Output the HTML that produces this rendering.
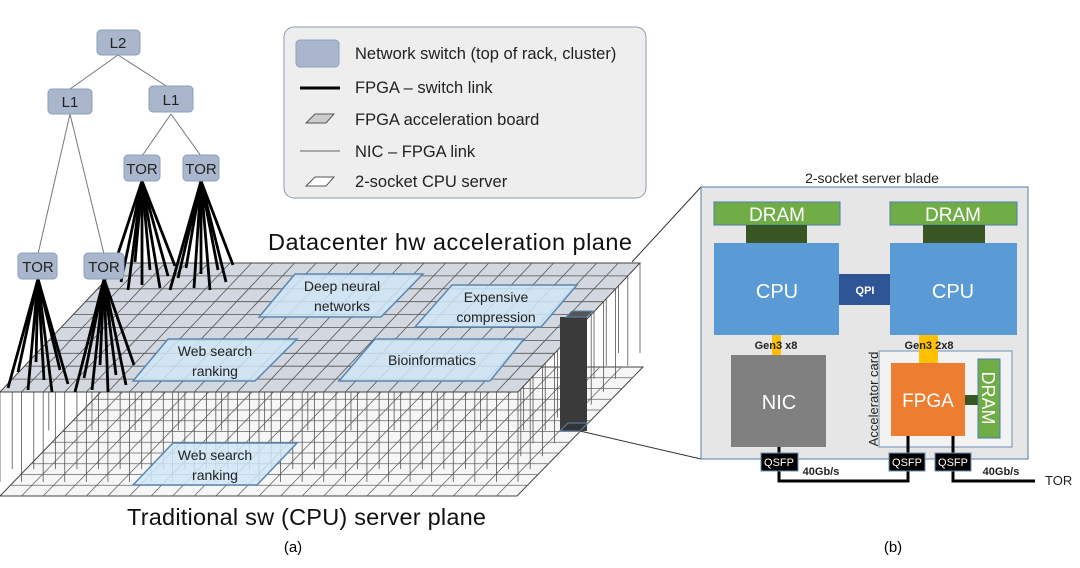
<!DOCTYPE html>
<html><head><meta charset="utf-8"><style>
html,body{margin:0;padding:0;background:#fff;}
svg{display:block;font-family:"Liberation Sans",sans-serif;}
</style></head><body>
<svg id="s" width="1080" height="568" viewBox="0 0 1080 568" xmlns="http://www.w3.org/2000/svg">
<g id="planes"></g>
<g fill="#cfe6f7" stroke="#5b87b3" stroke-width="1.5" fill-opacity="0.85">
<polygon points="295,274 423,274 381,317 259,317"/>
<polygon points="452,285 577,285 541,327 415,327"/>
<polygon points="168,339 297,339 255,381 133,381"/>
<polygon points="375,339 524,339 490,381 339,381"/>
<polygon points="173,443 297,443 257,485 133,485"/>
</g>
<g font-size="14" fill="#222" text-anchor="middle">
<text x="342" y="291">Deep neural</text><text x="342" y="311">networks</text>
<text x="496" y="302">Expensive</text><text x="496" y="322">compression</text>
<text x="215" y="356">Web search</text><text x="215" y="376">ranking</text>
<text x="432" y="365">Bioinformatics</text>
<text x="215" y="460">Web search</text><text x="215" y="480">ranking</text>
</g>
<polygon points="560,317 587,317 587,431 560,431" fill="#3a3a3a"/>
<polygon points="566,317 587,317 593,311 572,311" fill="#555" stroke="#5b87b3"/>
<polygon points="560,431 580,431 588,423 568,423" fill="#333" stroke="#5b87b3"/>
<line x1="580" y1="431" x2="701" y2="459" stroke="#333" stroke-width="1"/>
<line x1="632" y1="262" x2="701" y2="187" stroke="#333" stroke-width="1"/>
<g stroke="#777" stroke-width="1">
<line x1="118" y1="55" x2="70" y2="89"/><line x1="118" y1="55" x2="171" y2="89"/>
<line x1="70" y1="114" x2="38" y2="254"/><line x1="70" y1="114" x2="104" y2="254"/>
<line x1="171" y1="114" x2="142" y2="156"/><line x1="171" y1="114" x2="201" y2="156"/>
</g>
<g id="fans" stroke="#000" stroke-width="2.8"></g>
<g fill="#a9b6cb" stroke="#8aa0c0" stroke-width="1">
<rect x="97" y="30" width="43" height="25" rx="4"/>
<rect x="48" y="89" width="44" height="25" rx="4"/>
<rect x="149" y="86" width="44" height="26" rx="4"/>
<rect x="124" y="155" width="36" height="26" rx="4"/>
<rect x="183" y="155" width="36" height="26" rx="4"/>
<rect x="18" y="253" width="39" height="26" rx="4"/>
<rect x="84" y="253" width="40" height="26" rx="4"/>
</g>
<g font-size="15" fill="#222" text-anchor="middle">
<text x="118" y="48">L2</text><text x="70" y="107">L1</text><text x="171" y="105">L1</text>
<text x="142" y="174">TOR</text><text x="201" y="174">TOR</text>
<text x="38" y="272">TOR</text><text x="104" y="272">TOR</text>
</g>
<rect x="284" y="27" width="362" height="171" rx="10" fill="#eeeeee" stroke="#8a9bb0"/>
<rect x="296" y="40" width="43" height="27" rx="4" fill="#a9b6cb" stroke="#8aa0c0"/>
<line x1="300" y1="88" x2="340" y2="88" stroke="#000" stroke-width="3"/>
<polygon points="315,114 334,114 326,123 306,123" fill="#ccc" stroke="#555"/>
<line x1="300" y1="151" x2="340" y2="151" stroke="#333" stroke-width="0.8"/>
<polygon points="315,177 334,177 326,186 306,186" fill="#fff" stroke="#555"/>
<g font-size="16.5" fill="#222">
<text x="355" y="59">Network switch (top of rack, cluster)</text>
<text x="355" y="93">FPGA – switch link</text>
<text x="355" y="125">FPGA acceleration board</text>
<text x="355" y="157">NIC – FPGA link</text>
<text x="355" y="187">2-socket CPU server</text>
</g>
<text x="268" y="250" font-size="23.5" fill="#111" textLength="364">Datacenter hw acceleration plane</text>
<text x="127" y="525" font-size="23.5" fill="#111" textLength="359">Traditional sw (CPU) server plane</text>
<text x="293" y="552" font-size="15" text-anchor="middle">(a)</text>
<text x="893" y="552" font-size="15" text-anchor="middle">(b)</text>
<text x="872" y="183" font-size="14" text-anchor="middle" fill="#222">2-socket server blade</text>
<rect x="701" y="187" width="327" height="272" fill="#e6e6e6" stroke="#6d8fb8" stroke-width="1.2"/>
<rect x="714" y="202" width="126" height="23" fill="#70ad47" stroke="#4b7fb0"/>
<rect x="890" y="202" width="127" height="23" fill="#70ad47" stroke="#4b7fb0"/>
<rect x="746" y="225" width="61" height="18" fill="#375623"/>
<rect x="923" y="225" width="62" height="18" fill="#375623"/>
<rect x="714" y="243" width="125" height="92" fill="#5b9bd5"/>
<rect x="890" y="243" width="127" height="92" fill="#5b9bd5"/>
<rect x="839" y="274" width="51" height="31" fill="#2f5597"/>
<rect x="772" y="335" width="9" height="20" fill="#ffc000"/>
<rect x="731" y="355" width="95" height="92" fill="#808080"/>
<rect x="879" y="351" width="133" height="96" fill="#f2f2f2" stroke="#6d8fb8"/>
<rect x="919" y="335" width="19" height="28" fill="#ffc000"/>
<rect x="891" y="363" width="74" height="73" fill="#ed7d31"/>
<rect x="965" y="395" width="13" height="10" fill="#375623"/>
<rect x="978" y="359" width="22" height="79" fill="#70ad47" stroke="#4b7fb0"/>
<g fill="#fff" text-anchor="middle">
<text x="777" y="221" font-size="19">DRAM</text>
<text x="953" y="221" font-size="19">DRAM</text>
<text x="777" y="298" font-size="20">CPU</text>
<text x="953" y="298" font-size="20">CPU</text>
<text x="865" y="294" font-size="11" font-weight="bold">QPI</text>
<text x="779" y="409" font-size="20">NIC</text>
<text x="928" y="407" font-size="19">FPGA</text>
<text transform="translate(982,398) rotate(90)" font-size="18" text-anchor="middle">DRAM</text>
</g>
<g font-size="11" font-weight="bold" fill="#222" text-anchor="middle">
<text x="776" y="349">Gen3 x8</text>
<text x="929" y="349">Gen3 2x8</text>
<text x="821" y="475">40Gb/s</text>
<text x="1001" y="475">40Gb/s</text>
</g>
<text transform="translate(878,399) rotate(-90)" font-size="13" fill="#222" text-anchor="middle">Accelerator card</text>
<g stroke="#000" stroke-width="3" fill="none">
<polyline points="779,447 779,481 908,481 908,436"/>
<polyline points="953,436 953,481 1035,481"/>
</g>
<g fill="#000" stroke="#6d8fb8">
<rect x="761" y="453" width="37" height="18"/><rect x="889" y="453" width="36" height="18"/><rect x="935" y="453" width="36" height="18"/>
</g>
<g fill="#fff" font-size="11" text-anchor="middle">
<text x="779" y="466">QSFP</text><text x="907" y="466">QSFP</text><text x="953" y="466">QSFP</text>
</g>
<text x="1045" y="485" font-size="13" fill="#222">TOR</text>
</svg>
<script>
(function(){
var NS="http://www.w3.org/2000/svg",g=document.getElementById("planes"),f=document.getElementById("fans");
function el(p,t,a){var e=document.createElementNS(NS,t);for(var k in a)e.setAttribute(k,a[k]);p.appendChild(e);return e;}
function P(tl,tr,bl,u,v){var x0=tl[0]+(bl[0]-tl[0])*v,y0=tl[1]+(bl[1]-tl[1])*v;return [x0+(tr[0]-tl[0])*u,y0];}
function plane(tl,tr,br,bl,fill,rows,cols,sc){
 el(g,"polygon",{points:[tl,tr,br,bl].join(" "),fill:fill,stroke:"#444","stroke-width":1});
 for(var i=1;i<rows;i++){var a=P(tl,tr,bl,0,i/rows),b=P(tl,tr,bl,1,i/rows);el(g,"line",{x1:a[0],y1:a[1],x2:b[0],y2:b[1],stroke:sc,"stroke-width":0.8});}
 for(var j=1;j<cols;j++){var a=P(tl,tr,bl,j/cols,0),b=P(tl,tr,bl,j/cols,1);el(g,"line",{x1:a[0],y1:a[1],x2:b[0],y2:b[1],stroke:sc,"stroke-width":0.8});}
}
var uTL=[122,263],uTR=[640,263],uBR=[518,392],uBL=[0,392];
var lTL=[125,367],lTR=[643,367],lBR=[517,496],lBL=[0,496];
plane(lTL,lTR,lBR,lBL,"#f6f6f6",12,24,"#666");
for(var i=0;i<=10;i++)for(var j=0;j<=24;j++){
 if(!(i==10||i==9||j==24||j==23||(i%4==2&&j%2==0)))continue;
 var p=P(uTL,uTR,uBL,j/24,i/10);el(g,"line",{x1:p[0],y1:p[1],x2:p[0],y2:p[1]+90,stroke:"#555","stroke-width":0.8});}
plane(uTL,uTR,uBR,uBL,"#d3d7df",10,24,"#555");
function fan(cx,cy,pts){pts.forEach(function(p){el(f,"line",{x1:cx,y1:cy,x2:p[0],y2:p[1]});});}
fan(142,181,[[112,272],[121,282],[128,290],[135,262],[142,285],[150,270],[160,288],[168,276],[175,266]]);
fan(201,181,[[170,290],[178,278],[186,268],[194,288],[201,274],[210,290],[218,270],[226,282],[233,265]]);
fan(38,279,[[8,388],[18,372],[28,390],[36,362],[44,380],[52,392],[60,370],[68,384]]);
fan(104,279,[[75,392],[84,378],[92,390],[100,365],[108,392],[116,375],[126,385],[134,365]]);
})();
</script>
</body></html>
